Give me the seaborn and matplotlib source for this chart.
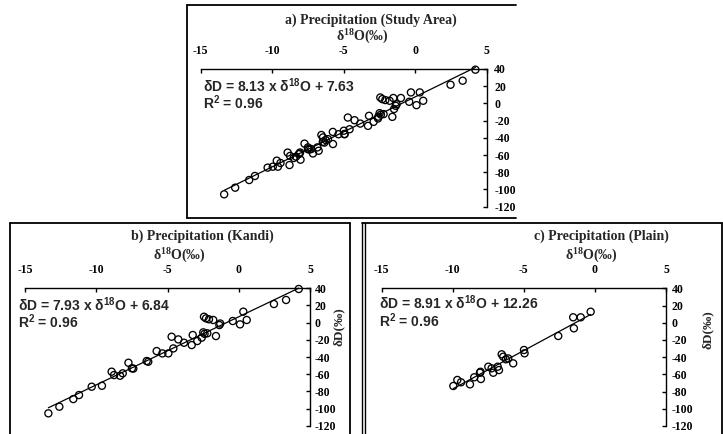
import numpy as np
import pandas as pd
import matplotlib
matplotlib.use("Agg")
import matplotlib.pyplot as plt
import seaborn as sns
from matplotlib.patches import Rectangle
from matplotlib.lines import Line2D

# ---------------- data ----------------
b_d18o = [-13.36, -12.59, -11.61, -11.21, -10.32, -9.60, -8.92, -8.75, -8.33, -8.14,
          -7.74, -7.50, -7.40, -6.46, -6.35, -5.76, -5.36, -4.94, -4.71, -4.59,
          -4.24, -3.84, -3.30, -3.23, -2.91, -2.60, -2.44, -2.30, -2.49, -2.40,
          -2.21, -2.09, -1.79, -1.60, -1.36, -1.30, -0.42, 0.09, 0.32, 0.56,
          2.47, 3.32, 4.21]
b_dd = [-105.6, -97.9, -89.0, -84.3, -74.6, -73.5, -57.1, -61.0, -61.8, -59.0,
        -46.7, -53.2, -53.5, -44.7, -45.5, -33.1, -35.8, -35.8, -16.4, -30.0,
        -19.5, -23.4, -26.1, -14.4, -21.4, -17.5, 6.9, 5.0, -11.3, -13.0,
        -12.4, 3.9, 3.1, -15.6, -2.8, -1.0, 1.9, -2.0, 12.8, 3.1,
        21.7, 26.4, 39.2]
c_d18o = [-9.96, -9.68, -9.42, -8.79, -8.49, -8.09, -8.05, -8.02, -7.50, -7.27,
          -7.15, -6.84, -6.75, -6.56, -6.45, -6.26, -6.10, -5.75, -4.99, -4.95,
          -2.58, -1.53, -1.48, -1.00, -0.30]
c_dd = [-73.5, -66.5, -69.2, -71.6, -63.4, -58.1, -57.0, -65.4, -51.1, -53.0,
        -58.1, -51.1, -55.0, -36.7, -39.5, -42.5, -41.5, -47.2, -31.7, -35.5,
        -15.4, 6.3, -6.5, 6.3, 12.8]
# study area = Kandi + Plain
a_d18o = b_d18o + c_d18o
a_dd = b_dd + c_dd

titles = ["a) Precipitation (Study Area)", "b) Precipitation (Kandi)", "c) Precipitation (Plain)"]
slopes = [8.13, 7.93, 8.91]
intercepts = [7.63, 6.84, 12.26]
r2_values = [0.96, 0.96, 0.96]
x_ticks = [-15, -10, -5, 0, 5]
y_ticks = [40, 20, 0, -20, -40, -60, -80, -100, -120]

# ---------------- style ----------------
sns.set_theme(style="white")
plt.rcParams["font.family"] = ["Liberation Serif", "DejaVu Serif"]
plt.rcParams["font.weight"] = "bold"
plt.rcParams["axes.unicode_minus"] = False
plt.rcParams["mathtext.fontset"] = "custom"
plt.rcParams["mathtext.bf"] = "Liberation Sans:bold"
plt.rcParams["mathtext.sf"] = "Liberation Serif:bold"
plt.rcParams["mathtext.rm"] = "Liberation Sans:bold"

W, H = 723, 434
fig = plt.figure(figsize=(W / 100, H / 100), dpi=100)
fig.patch.set_facecolor("white")


def fx(px):
    return px / W


def fy(py):
    return 1 - py / H


# axes boxes in pixels: (left, top, right, bottom)
boxes = [(200.7, 69.0, 486.7, 206.7), (25.0, 288.3, 310.0, 425.7), (381.7, 288.3, 666.0, 426.0)]
ypads = [5.5, 3.5, 4.0]
datasets = [(a_d18o, a_dd), (b_d18o, b_dd), (c_d18o, c_dd)]
# text positions in pixels
title_pos = [(371, 20.7), (202, 236.7), (601, 236.7)]
xlab_pos = [(362, 35.5), (179, 254.5), (591, 254.5)]
eq_pos = [(203, 85.5), (18.3, 304.5), (379, 303)]
r2_pos = [(203, 102.5), (18.3, 321.5), (379, 320.5)]
ylab_pos = [None, (338.5, 327), (708, 330)]

for i in range(3):
    l, t, r, bt = boxes[i]
    ax = fig.add_axes([fx(l), fy(bt), (r - l) / W, (bt - t) / H])
    ax.set_facecolor("none")
    xs, ys = datasets[i]
    df = pd.DataFrame({"d18O": xs, "dD": ys})
    sns.scatterplot(data=df, x="d18O", y="dD", ax=ax, marker="o", s=26,
                    facecolor="none", edgecolor="black", linewidth=0.95,
                    clip_on=False, zorder=3)
    xline = np.linspace(df["d18O"].min(), df["d18O"].max(), 50)
    line_df = pd.DataFrame({"x": xline, "y": slopes[i] * xline + intercepts[i]})
    sns.lineplot(data=line_df, x="x", y="y", ax=ax, color="black", linewidth=0.9,
                 clip_on=False, zorder=2)
    ax.set_xlim(-15, 5)
    ax.set_ylim(-120, 40)
    ax.set_xticks(x_ticks)
    ax.set_yticks(y_ticks)
    ax.xaxis.tick_top()
    ax.yaxis.tick_right()
    ax.set_xlabel("")
    ax.set_ylabel("")
    for s in ["left", "bottom"]:
        ax.spines[s].set_visible(False)
    for s in ["top", "right"]:
        ax.spines[s].set_visible(True)
        ax.spines[s].set_color("black")
        ax.spines[s].set_linewidth(1.0)
    ax.tick_params(axis="x", direction="in", length=3, width=1, pad=8.5,
                   labelsize=8.5, colors="black", top=True, bottom=False)
    ax.tick_params(axis="y", direction="in", length=3, width=1, pad=ypads[i],
                   labelsize=8.5, colors="black", right=True, left=False)
    for lab in ax.get_xticklabels() + ax.get_yticklabels():
        lab.set_fontweight("bold")
        lab.set_family("Liberation Serif")
    ax.grid(False)

    fig.text(fx(title_pos[i][0]), fy(title_pos[i][1]), titles[i], ha="center", va="center",
             fontsize=10, fontweight="bold", family="Liberation Serif")
    fig.text(fx(xlab_pos[i][0]), fy(xlab_pos[i][1]), r"δ$^{\mathsf{18}}$O(‰)", ha="center",
             va="center", fontsize=10, fontweight="bold", family="Liberation Serif")
    fig.text(fx(eq_pos[i][0]), fy(eq_pos[i][1]),
             f"δD = {slopes[i]:.2f} x δ" + r"$^{\mathbf{18}}$" + f"O + {intercepts[i]:.2f}",
             ha="left", va="center", fontsize=10, fontweight="bold", family="Liberation Sans")
    fig.text(fx(r2_pos[i][0]), fy(r2_pos[i][1]),
             r"R$^{\mathbf{2}}$" + f" = {r2_values[i]:.2f}",
             ha="left", va="center", fontsize=10, fontweight="bold", family="Liberation Sans")
    if ylab_pos[i] is not None:
        fig.text(fx(ylab_pos[i][0]), fy(ylab_pos[i][1]), "δD(‰)", ha="center", va="center",
                 rotation=90, fontsize=9.5, fontweight="bold", family="Liberation Serif")

# panel a is cropped on its right side in the source image
fig.add_artist(Rectangle((fx(516), fy(220)), 1 - fx(516), 220 / H, transform=fig.transFigure,
                         facecolor="white", edgecolor="none", zorder=10))


def hline(x0, x1, y, lw=1.3):
    fig.add_artist(Line2D([fx(x0), fx(x1)], [fy(y), fy(y)], transform=fig.transFigure,
                          color="black", lw=lw, zorder=11))


def vline(x, y0, y1, lw=1.3):
    fig.add_artist(Line2D([fx(x), fx(x)], [fy(y0), fy(y1)], transform=fig.transFigure,
                          color="black", lw=lw, zorder=11))


# panel a frame
hline(187, 516, 4.5)
hline(187, 516, 217.5)
vline(187, 4.5, 217.5)
# panel b frame
hline(10, 350, 223)
vline(10, 223, 434)
vline(350, 223, 434)
# panel c frame
hline(362, 722, 223)
vline(362, 223, 434, lw=1.0)
vline(365, 223, 434, lw=1.0)
vline(721.5, 223, 434)

fig.savefig("out.png", dpi=100, facecolor="white")
